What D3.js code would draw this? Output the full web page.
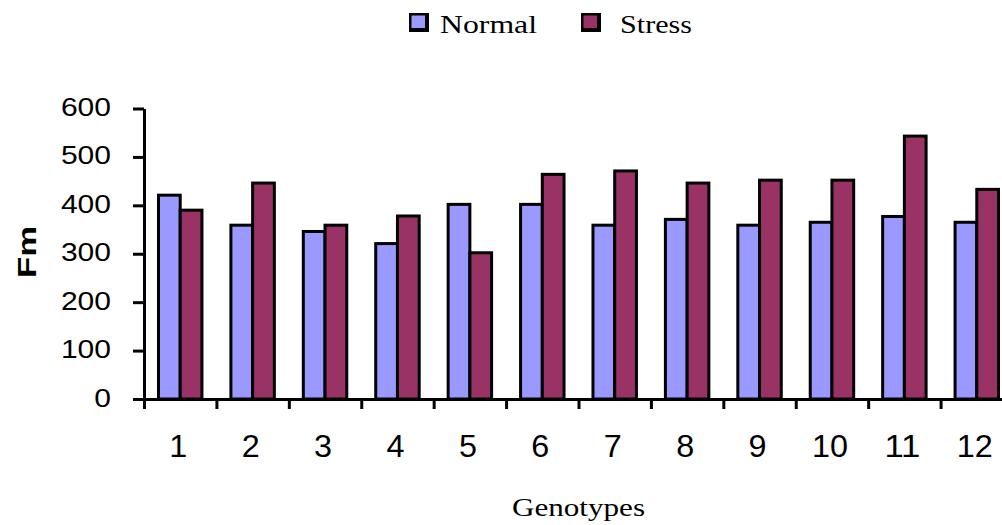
<!DOCTYPE html>
<html>
<head>
<meta charset="utf-8">
<script src="https://cdn.jsdelivr.net/npm/d3@7"></script>
<style>
  html, body { margin: 0; padding: 0; background: #fff; }
  svg { display: block; }
</style>
</head>
<body>
<svg id="chart" width="1002" height="525"></svg>
<script>
// Fm per genotype under normal and stress conditions
const genotypes = ["1", "2", "3", "4", "5", "6", "7", "8", "9", "10", "11", "12"];
const seriesNames = ["Normal", "Stress"];
const normalValues = [421, 359, 346, 321, 402, 402, 359, 371, 359, 365, 377, 365];
const stressValues = [390, 446, 359, 378, 302, 464, 471, 446, 452, 452, 543, 433];
const yTickValues = [0, 100, 200, 300, 400, 500, 600];

const colors = { Normal: "#9999FF", Stress: "#993366" };
const svg = d3.select("#chart");

const plot = { left: 144, right: 1013, top: 108.5, bottom: 399 };

const x = d3.scaleBand()
  .domain(genotypes)
  .range([plot.left, plot.right])
  .paddingInner(0.4)
  .paddingOuter(0.2);

const xSeries = d3.scaleBand()
  .domain(seriesNames)
  .range([0, x.bandwidth()])
  .padding(0);

const y = d3.scaleLinear()
  .domain([0, 600])
  .range([plot.bottom, plot.top]);

const rows = genotypes.map((g, i) => ({
  g,
  values: [
    { key: "Normal", value: normalValues[i] },
    { key: "Stress", value: stressValues[i] }
  ]
}));

// Bars
const groups = svg.append("g")
  .selectAll("g")
  .data(rows)
  .join("g")
  .attr("transform", d => `translate(${x(d.g)},0)`);

groups.selectAll("rect")
  .data(d => d.values)
  .join("rect")
  .attr("x", d => xSeries(d.key))
  .attr("y", d => y(d.value))
  .attr("width", xSeries.bandwidth())
  .attr("height", d => y(0) - y(d.value))
  .attr("fill", d => colors[d.key])
  .attr("stroke", "#000")
  .attr("stroke-width", 3);

// Y axis
const yAxis = svg.append("g")
  .attr("transform", `translate(${plot.left},0)`)
  .call(d3.axisLeft(y).tickValues(yTickValues).tickSize(11).tickSizeOuter(0).tickPadding(0));

yAxis.select(".domain").attr("stroke", "#000").attr("stroke-width", 3);
yAxis.selectAll(".tick line").attr("stroke", "#000").attr("stroke-width", 3);
yAxis.selectAll(".tick text")
  .attr("x", -33)
  .attr("dy", null)
  .attr("y", 7)
  .attr("fill", "#000")
  .attr("font-family", "'Liberation Sans', Arial, sans-serif")
  .attr("font-size", 25)
  .attr("text-anchor", "end")
  .attr("textLength", d => String(d).length * 16.7)
  .attr("lengthAdjust", "spacingAndGlyphs");

// X axis: ticks at category boundaries, labels centred in each band
const edges = d3.range(genotypes.length + 1);
const xEdge = d3.scaleLinear().domain([0, genotypes.length]).range([plot.left, plot.right]);

const xTicks = svg.append("g")
  .attr("transform", `translate(0,${plot.bottom})`)
  .call(d3.axisBottom(xEdge).tickValues(edges).tickFormat("").tickSize(10).tickSizeOuter(0));
xTicks.select(".domain").attr("stroke", "#000").attr("stroke-width", 3);
xTicks.selectAll(".tick line").attr("stroke", "#000").attr("stroke-width", 3);

const xLabels = svg.append("g")
  .attr("transform", `translate(0,${plot.bottom})`)
  .call(d3.axisBottom(x).tickSize(0).tickPadding(0));
xLabels.select(".domain").remove();
xLabels.selectAll(".tick text")
  .attr("dy", null)
  .attr("y", 57.5)
  .attr("x", -2)
  .attr("fill", "#000")
  .attr("font-family", "'Liberation Sans', Arial, sans-serif")
  .attr("font-size", 31)
  .attr("textLength", d => d.length * 18)
  .attr("lengthAdjust", "spacingAndGlyphs");

// Axis titles
svg.append("text")
  .attr("transform", "translate(36,252) rotate(-90)")
  .attr("text-anchor", "middle")
  .attr("font-family", "'Liberation Sans', Arial, sans-serif")
  .attr("font-weight", "bold")
  .attr("font-size", 25)
  .attr("textLength", 52)
  .attr("lengthAdjust", "spacingAndGlyphs")
  .text("Fm");

svg.append("text")
  .attr("x", 512)
  .attr("y", 516)
  .attr("font-family", "'Liberation Serif', 'Times New Roman', serif")
  .attr("font-size", 25)
  .attr("textLength", 133)
  .attr("lengthAdjust", "spacingAndGlyphs")
  .text("Genotypes");

// Legend
const legendItems = [
  { key: "Normal", box: 409, text: 440, width: 97 },
  { key: "Stress", box: 581, text: 620, width: 72 }
];
const legend = svg.append("g").selectAll("g").data(legendItems).join("g");
legend.append("rect")
  .attr("x", d => d.box)
  .attr("y", 13)
  .attr("width", 20)
  .attr("height", 19)
  .attr("fill", "#000");
legend.append("rect")
  .attr("x", d => d.box + 2.5)
  .attr("y", 15.5)
  .attr("width", 13.5)
  .attr("height", 12.5)
  .attr("fill", d => colors[d.key]);
legend.append("text")
  .attr("x", d => d.text)
  .attr("y", 33)
  .attr("font-family", "'Liberation Serif', 'Times New Roman', serif")
  .attr("font-size", 25)
  .attr("textLength", d => d.width)
  .attr("lengthAdjust", "spacingAndGlyphs")
  .text(d => d.key);
</script>
</body>
</html>
